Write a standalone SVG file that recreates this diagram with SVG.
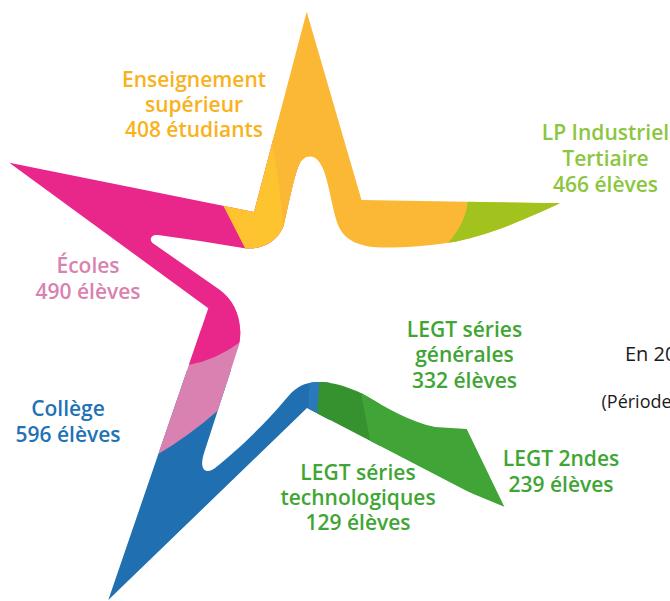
<svg xmlns="http://www.w3.org/2000/svg" width="670" height="601" viewBox="0 0 670 601">
<style>
.lbl{font-family:"Open Sans","Liberation Sans",sans-serif;font-weight:600;font-size:21px;text-anchor:middle}
.note{font-family:"Open Sans","Liberation Sans",sans-serif;fill:#1a1a1a}
</style>
<defs>
<clipPath id="star">
<path d="M306.7,11.7 L361.5,200 L560,203.3 C520,222 480,238 448.3,242.7 C425,246 405,247.5 385,247.5 C362,247.5 345,242 338,225 C333,212 330,190 325,174 C321,162 316,156.5 310,156.5 C304,156.5 300,161 297,170 C292,185 287,212 283.3,226.7 C277,242 262,249.5 246,248.5 L200,241 L158,235 C151,234 148,240 154,244 L220,290 C234,300 244,320 239,345 L205,450 C200,464 202,471 208,471 C212,471 215,468 220,464 C232,454 262,428 285,400 C294,389 301,384 312,382.5 C330,380.5 345,386 362,393.5 C385,407 410,422 435,427 L466.7,429 L506.7,511.7 L307,408 L108.3,600 L208.3,308.3 L9.3,162.7 L254,212 Z"/>
</clipPath>
</defs>
<g id="star-shape" clip-path="url(#star)">
<g id="seg-college"><rect x="0" y="370" width="330" height="231" fill="#1f6fb1"/></g>
<g id="seg-bluestrip"><path d="M309.3,375 L309.3,383.3 L308.3,410 L308,420 L330,420 L330,375 Z" fill="#2a79ba"/></g>
<g id="seg-legt-techno"><path d="M319.3,375 L319.3,381.7 L317.3,412.7 L317,420 L380,450 L380,375 Z" fill="#36922f"/></g>
<g id="seg-legt-gen"><path d="M361,375 L361,393.3 L370,440 L372,452 L560,530 L560,375 Z" fill="#40a536"/></g>
<g id="seg-lightpink"><path d="M0,330 L260,330 L250,380 L230,405 L218.5,410 Q189,436 156.7,455 L140,468 L0,468 Z" fill="#d981b0"/></g>
<g id="seg-ecoles"><path d="M0,140 L300,140 L300,300 L260,300 L255,336 L240.7,341.7 Q216,360 188.3,365 L175,372 L0,372 Z" fill="#e9268a"/></g>
<g id="seg-lightyellow"><path d="M214.6,188.7 L249.6,257 L300,262 L300,120 L250,120 Z" fill="#fec42f"/></g>
<g id="seg-ens-sup"><path d="M265,110 L272,143 Q280,185 283.3,226.7 L286,265 L600,265 L600,0 L265,0 Z" fill="#fbb834"/></g>
<g id="seg-lp"><path d="M467.7,190 L467.7,201.7 Q466,222 448.3,242.7 L444,260 L600,260 L600,190 Z" fill="#a2c21d"/></g>
</g>
<g id="label-ens-sup" class="lbl" fill="#f9b21b">
<text x="194" y="87">Enseignement</text>
<text x="194" y="112">supérieur</text>
<text x="194" y="137">408 étudiants</text>
</g>
<g id="label-lp" class="lbl" fill="#8cc63f">
<text x="605.5" y="140">LP Industriel</text>
<text x="605.5" y="166">Tertiaire</text>
<text x="605.5" y="191.5">466 élèves</text>
</g>
<g id="label-ecoles" class="lbl" fill="#d982b0">
<text x="88" y="273">Écoles</text>
<text x="88" y="299">490 élèves</text>
</g>
<g id="label-college" class="lbl" fill="#1f72b6">
<text x="68" y="416">Collège</text>
<text x="68" y="442">596 élèves</text>
</g>
<g id="label-legt-gen" class="lbl" fill="#3fa535">
<text x="464.5" y="336.5">LEGT séries</text>
<text x="464.5" y="362">générales</text>
<text x="464.5" y="387.5">332 élèves</text>
</g>
<g id="label-legt-techno" class="lbl" fill="#3fa535">
<text x="358" y="480">LEGT séries</text>
<text x="358" y="505">technologiques</text>
<text x="358" y="530">129 élèves</text>
</g>
<g id="label-legt-2ndes" class="lbl" fill="#3fa535">
<text x="561" y="466">LEGT 2ndes</text>
<text x="561" y="491.5">239 élèves</text>
</g>
<g id="note">
<text class="note" x="625" y="361" font-size="20">En 20</text>
<text class="note" x="601.5" y="408" font-size="18">(Période</text>
</g>
</svg>
